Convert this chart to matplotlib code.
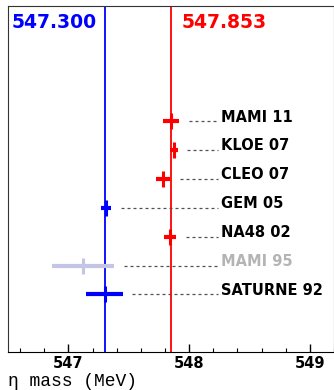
import matplotlib
matplotlib.use("Agg")
import matplotlib.pyplot as plt
import numpy as np

# eta mass measurements, top to bottom
experiments = ["MAMI 11", "KLOE 07", "CLEO 07", "GEM 05", "NA48 02", "MAMI 95", "SATURNE 92"]
masses = [547.851, 547.874, 547.785, 547.311, 547.843, 547.12, 547.30]
errors = [0.069, 0.030, 0.059, 0.043, 0.051, 0.257, 0.15]
point_colors = ["red", "red", "red", "blue", "red", "#c4c4e4", "blue"]
label_colors = ["black", "black", "black", "black", "black", "#b4b4b4", "black"]

# averages shown as vertical lines
avg_low = 547.300
avg_high = 547.853

fig = plt.figure(figsize=(3.34, 3.90), dpi=100)
ax = fig.add_axes([8 / 334, 38 / 390, 326 / 334, 346 / 390])

rows = np.arange(len(experiments))[::-1] + 1

ax.axvline(avg_low, color="blue", lw=1.3, zorder=1)
ax.axvline(avg_high, color="red", lw=1.3, zorder=1)

label_x = 548.26
for y, m, e, c, name, lc in zip(rows, masses, errors, point_colors, experiments, label_colors):
    ax.errorbar(m, y, xerr=e, fmt="|", color=c, ms=11, mew=2.2,
                elinewidth=3, capsize=0, zorder=3)
    # dashed guide from the point to its label
    ax.plot([m + e + 0.08, label_x - 0.02], [y, y], color="#505050",
            lw=0.9, ls=(0, (2.4, 2.4)), zorder=2)
    ax.text(label_x, y + 0.15, name, color=lc, fontsize=10.5,
            fontweight="bold", va="center", ha="left")

ax.text(0.012, 0.952, f"{avg_low:.3f}", transform=ax.transAxes, color="blue",
        fontsize=13.5, fontweight="bold", va="center", ha="left")
ax.text(0.532, 0.952, f"{avg_high:.3f}", transform=ax.transAxes, color="red",
        fontsize=13.5, fontweight="bold", va="center", ha="left")

ax.set_xlim(546.5, 549.18)
ax.set_ylim(-1, 11)
ax.set_yticks([])
ax.set_xticks([547, 548, 549])
ax.set_xticks(np.arange(546.6, 549.2, 0.2), minor=True)
ax.tick_params(axis="x", which="major", direction="in", length=6, width=1,
               labelsize=10.5, pad=3)
ax.tick_params(axis="x", which="minor", direction="in", length=3, width=0.8)
for lbl in ax.get_xticklabels():
    lbl.set_fontweight("bold")

for side in ["top", "left", "right"]:
    ax.spines[side].set_color("#333333")
ax.spines["bottom"].set_color("black")

fig.text(8 / 334, 8 / 390, "η mass (MeV)", family="Liberation Mono",
         fontsize=13, va="center", ha="left")

fig.savefig("out.png", dpi=100)
